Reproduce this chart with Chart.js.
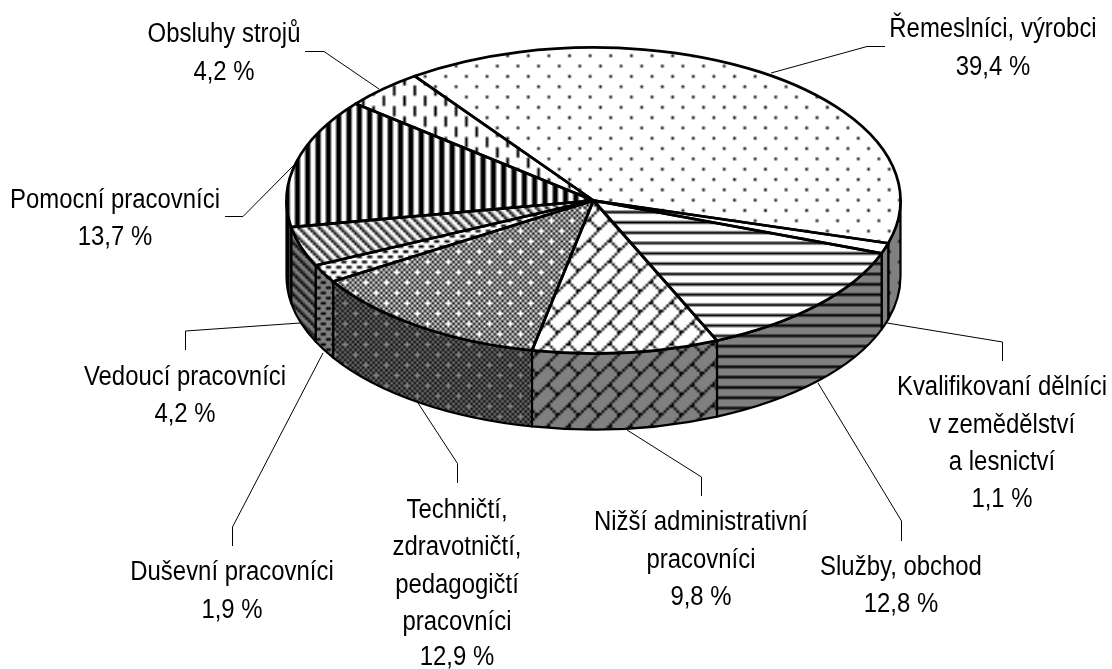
<!DOCTYPE html>
<html><head><meta charset="utf-8">
<style>html,body{margin:0;padding:0;background:#fff}canvas{display:block}</style>
<script src="https://cdn.jsdelivr.net/npm/chart.js@4"></script>
</head><body><canvas id="c" width="1112" height="669"></canvas>
<script>
const categories = ["Řemeslníci, výrobci","Kvalifikovaní dělníci v zemědělství a lesnictví","Služby, obchod","Nižší administrativní pracovníci","Techničtí, zdravotničtí, pedagogičtí pracovníci","Duševní pracovníci","Vedoucí pracovníci","Pomocní pracovníci","Obsluhy strojů"];
const values = [39.4,1.1,12.8,9.8,12.9,1.9,4.2,13.7,4.2];
const valueLabels = ["39,4 %","1,1 %","12,8 %","9,8 %","12,9 %","1,9 %","4,2 %","13,7 %","4,2 %"];
const labelLines = [["Řemeslníci, výrobci"],["Kvalifikovaní dělníci","v zemědělství","a lesnictví"],["Služby, obchod"],["Nižší administrativní","pracovníci"],["Techničtí,","zdravotničtí,","pedagogičtí","pracovníci"],["Duševní pracovníci"],["Vedoucí pracovníci"],["Pomocní pracovníci"],["Obsluhy strojů"]];

const labelPos = [
 {x:993,y:[37,75]},{x:1002,y:[395,433,470,507]},{x:901,y:[575,612]},{x:701,y:[530,568,605]},
 {x:457,y:[518,555,593,630,665]},{x:232,y:[580,618]},{x:185,y:[385,422]},{x:115,y:[208,245]},{x:224,y:[42,80]}];
const leaders = [
 [[885,46.5],[867,46.5],[771,73]],[[1002.5,361],[1002.5,342],[887,323]],[[901.5,541],[901.5,521],[818,383]],
 [[701.5,496],[701.5,477],[627,430]],[[457.5,483],[457.5,463.5],[418,403]],[[232.5,546],[232.5,527],[323,353]],
 [[185.5,350],[185.5,331],[300,323]],[[225,216.5],[243,216.5],[295,164]],[[305,51.5],[324,51.5],[379,89]]];
const CENTER={x:593.5,y:200.5}, RY=153, DEPTH=76, CELL=2.578, ORIGIN={x:1,y:2.85};
const patternShiftY=[0,0,1.7,0,0,0,0,0,0];

const bitmaps = [
 ["x.......","........","........","........","....x...","........","........","........"],
 ["."],
 ["xxxxxxxx","........","........","........"],
 [".......x","......x.",".....x..","....x...","...xx...","..x..x..",".x....x.","x......x"],
 ["...x.x.x","x.x.x.x.",".x.x.x.x","x.x.x.x.",".x.x...x","x.x.x.x.",".x.x.x.x","x.x.x.x."],
 ["xx..","....","..xx","...."],
 ["xo..",".xo.","..xo","o..x"],
 ["..xx"],
 ["x.......","x.......","x.......","x.......","....x...","....x...","....x...","....x..."]
];

function makePattern(rows,bg,mid,fg){
  const w=rows[0].length,h=rows.length;
  const t=document.createElement('canvas');t.width=w;t.height=h;
  const g=t.getContext('2d');g.fillStyle=bg;g.fillRect(0,0,w,h);
  rows.forEach((r,y)=>[...r].forEach((c,x)=>{
    if(c==='.')return;
    g.fillStyle=c==='x'?fg:mid;g.fillRect(x,y,1,1);}));
  return document.getElementById('c').getContext('2d').createPattern(t,'repeat');
}
const topFills = bitmaps.map(b=>makePattern(b,'#fff','#808080','#000'));
const wallFills = bitmaps.map(b=>makePattern(b,'#808080','#404040','#000'));
const baseFor = i => new DOMMatrix().translate(ORIGIN.x,ORIGIN.y+patternShiftY[i]).scale(CELL,CELL);
wallFills.forEach((p,i)=>p.setTransform(baseFor(i)));

const pie3d = {
  id:'pie3d',
  beforeDatasetsDraw(chart){
    const ctx=chart.ctx, arcs=chart.getDatasetMeta(0).data;
    const a0=arcs[0], sy=RY/a0.outerRadius;
    const M=new DOMMatrix().translate(CENTER.x-a0.x,CENTER.y).scale(1,sy).translate(0,-a0.y);
    topFills.forEach((p,i)=>p.setTransform(M.inverse().multiply(baseFor(i))));
    arcs.forEach((arc,i)=>{
      [-1,0,1].forEach(k=>{
        const s=Math.max(arc.startAngle+2*Math.PI*k,0), e=Math.min(arc.endAngle+2*Math.PI*k,Math.PI);
        if(e<=s) return;
        const rx=arc.outerRadius;
        ctx.beginPath();
        ctx.ellipse(CENTER.x,CENTER.y,rx,RY,0,s,e);
        ctx.ellipse(CENTER.x,CENTER.y+DEPTH,rx,RY,0,e,s,true);
        ctx.closePath();
        ctx.fillStyle=wallFills[i];ctx.fill();
        ctx.strokeStyle='#000';ctx.lineWidth=2.2;ctx.lineJoin='round';ctx.stroke();
      });
    });
    ctx.save();
    ctx.setTransform(M);
  },
  afterDatasetsDraw(chart){
    const ctx=chart.ctx, arcs=chart.getDatasetMeta(0).data;
    ctx.restore();
    arcs.forEach(arc=>{
      ctx.beginPath();
      ctx.moveTo(CENTER.x,CENTER.y);
      ctx.ellipse(CENTER.x,CENTER.y,arc.outerRadius,RY,0,arc.startAngle,arc.endAngle);
      ctx.closePath();
      ctx.strokeStyle='#000';ctx.lineWidth=2.7;ctx.lineJoin='round';ctx.stroke();
    });
    ctx.strokeStyle='#000';ctx.lineWidth=1;
    leaders.forEach(l=>{ctx.beginPath();l.forEach((p,i)=>i?ctx.lineTo(p[0],p[1]):ctx.moveTo(p[0],p[1]));ctx.stroke();});
    ctx.fillStyle='#000';ctx.font='27px "Liberation Sans"';ctx.textAlign='center';ctx.textBaseline='alphabetic';
    labelLines.forEach((lines,i)=>{
      lines.concat(valueLabels[i]).forEach((t,j)=>{
        ctx.save();ctx.translate(labelPos[i].x,labelPos[i].y[j]);ctx.scale(0.886,1);ctx.fillText(t,0,0);ctx.restore();
      });
    });
  }
};

new Chart(document.getElementById('c'),{
  type:'pie',
  data:{labels:categories,datasets:[{data:values,backgroundColor:topFills,borderWidth:0,clip:false}]},
  options:{responsive:false,animation:false,rotation:324.4,
    layout:{padding:{left:286.5,right:211.5,top:27.5,bottom:27.5}},
    plugins:{legend:{display:false},tooltip:{enabled:false}},events:[]},
  plugins:[pie3d]
});
</script></body></html>
